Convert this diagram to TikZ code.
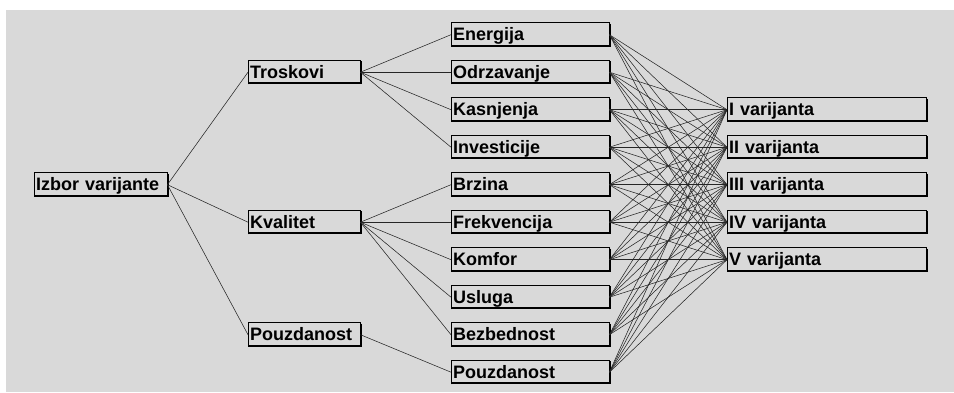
\documentclass[tikz,border=0pt]{standalone}
\usepackage{fontspec}
\setmainfont{Liberation Sans}
\definecolor{bg}{RGB}{217,217,217}
\definecolor{shade}{RGB}{110,110,110}
\begin{document}
\begin{tikzpicture}[x=1pt,y=-1pt,
  boxn/.style={rectangle, anchor=north west, inner xsep=2pt, inner ysep=0pt,
    minimum height=24pt, align=left, text height=13pt, text depth=1pt,
    font=\fontsize{18}{20}\selectfont\bfseries},
  wa/.style={boxn, text width=129pt},
  wb/.style={boxn, text width=108pt},
  wc/.style={boxn, text width=154pt},
  wd/.style={boxn, text width=195pt},
  link/.style={draw=black!85, line width=0.55pt}]
\useasboundingbox (0,0) rectangle (954,392);
\fill[white] (0,0) rectangle (954,392);
\fill[bg] (6,10) rectangle (954,392);

% root
\node[wa] (izbor) at (34,172.5) {Izbor varijante};
% level 1
\node[wb] (tros) at (248,60) {Troskovi};
\node[wb] (kval) at (248,210) {Kvalitet};
\node[wb] (pouz) at (248,322.5) {Pouzdanost};
% level 2
\node[wc] (m1) at (451,22.5) {Energija};
\node[wc] (m2) at (451,60) {Odrzavanje};
\node[wc] (m3) at (451,97.5) {Kasnjenja};
\node[wc] (m4) at (451,135) {Investicije};
\node[wc] (m5) at (451,172.5) {Brzina};
\node[wc] (m6) at (451,210) {Frekvencija};
\node[wc] (m7) at (451,247.5) {Komfor};
\node[wc] (m8) at (451,285) {Usluga};
\node[wc] (m9) at (451,322.5) {Bezbednost};
\node[wc] (m10) at (451,360) {Pouzdanost};
% variants
\node[wd] (v1) at (727,97.5) {I varijanta};
\node[wd] (v2) at (727,135) {II varijanta};
\node[wd] (v3) at (727,172.5) {III varijanta};
\node[wd] (v4) at (727,210) {IV varijanta};
\node[wd] (v5) at (727,247.5) {V varijanta};

% box frames
\foreach \n in {izbor,tros,kval,pouz,m1,m2,m3,m4,m5,m6,m7,m8,m9,m10,v1,v2,v3,v4,v5}{
  \draw[shade, line width=1pt] ([xshift=1pt,yshift=-1pt]\n.north east) -- ([xshift=1pt]\n.south east);
  \draw[black, line width=1pt] (\n.south west) -- (\n.north west) -- (\n.north east) -- (\n.south east);
  \draw[shade, line width=2pt] ([yshift=1pt]\n.south west) -- ([xshift=1pt,yshift=1pt]\n.south east);
}

% tree links
\foreach \c in {tros,kval,pouz} \draw[link] (izbor.east) -- (\c.west);
\foreach \c in {m1,m2,m3,m4} \draw[link] (tros.east) -- (\c.west);
\foreach \c in {m5,m6,m7,m8,m9} \draw[link] (kval.east) -- (\c.west);
\draw[link] (pouz.east) -- (m10.west);

% criteria to variants
\foreach \m in {m1,m2,m3,m4,m5,m6,m7,m8,m9,m10}
  \foreach \v in {v1,v2,v3,v4,v5}
    \draw[link] (\m.east) -- (\v.west);
\end{tikzpicture}
\end{document}
